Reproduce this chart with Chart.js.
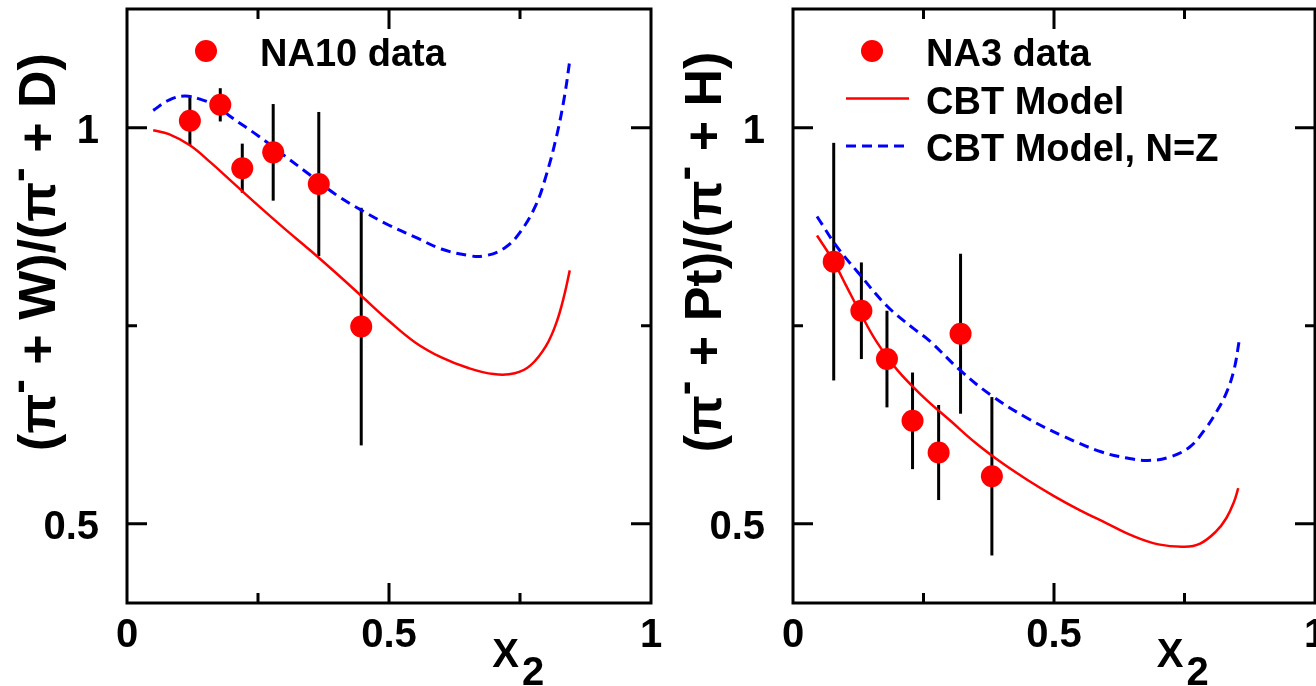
<!DOCTYPE html>
<html>
<head>
<meta charset="utf-8">
<script src="https://cdn.jsdelivr.net/npm/chart.js@4.4.1/dist/chart.umd.min.js"></script>
<style>
  body { margin: 0; background: #fff; width: 1316px; height: 686px; overflow: hidden; position: relative; }
  canvas { position: absolute; top: 0; }
  #leftChart { left: 0; }
  #rightChart { left: 658px; }
</style>
</head>
<body>
<canvas id="leftChart" width="680" height="686"></canvas>
<canvas id="rightChart" width="658" height="686"></canvas>
<script>
// axis ticks (shared by both panels)
const xTicks = [0, 0.25, 0.5, 0.75, 1];
const xTickLabels = [0, 0.5, 1];
const yTicks = [0.5, 0.75, 1];
const yTickLabels = [0.5, 1];

// left panel: NA10, W / D
const na10X = [0.12, 0.178, 0.22, 0.279, 0.366, 0.447];
const na10Y = [1.009, 1.029, 0.949, 0.969, 0.929, 0.749];
const na10Err = [0.031, 0.021, 0.031, 0.061, 0.091, 0.15];
const wdModelX = [0.05, 0.08, 0.12, 0.16, 0.2, 0.25, 0.3, 0.35, 0.4, 0.45, 0.5, 0.55, 0.6, 0.65, 0.7, 0.74, 0.77, 0.8, 0.82, 0.835, 0.845];
const wdModelY = [0.997, 0.992, 0.978, 0.956, 0.932, 0.902, 0.873, 0.845, 0.816, 0.786, 0.756, 0.729, 0.71, 0.697, 0.689, 0.69, 0.7, 0.725, 0.755, 0.79, 0.82];
const wdNZX = [0.05, 0.08, 0.11, 0.14, 0.17, 0.2, 0.25, 0.3, 0.35, 0.4, 0.45, 0.5, 0.55, 0.6, 0.65, 0.68, 0.72, 0.75, 0.78, 0.8, 0.82, 0.835, 0.845];
const wdNZY = [1.022, 1.035, 1.04, 1.036, 1.028, 1.013, 0.99, 0.965, 0.94, 0.915, 0.895, 0.877, 0.862, 0.847, 0.839, 0.838, 0.848, 0.868, 0.902, 0.94, 0.99, 1.04, 1.085];

// right panel: NA3, Pt / H
const na3X = [0.078, 0.131, 0.18, 0.229, 0.279, 0.321, 0.381];
const na3Y = [0.831, 0.769, 0.708, 0.63, 0.59, 0.74, 0.56];
const na3Err = [0.15, 0.061, 0.061, 0.061, 0.06, 0.101, 0.1];
const phModelX = [0.046, 0.078, 0.1, 0.13, 0.16, 0.2, 0.25, 0.3, 0.35, 0.4, 0.45, 0.5, 0.55, 0.6, 0.65, 0.7, 0.75, 0.78, 0.81, 0.83, 0.845, 0.853];
const phModelY = [0.864, 0.831, 0.803, 0.765, 0.73, 0.694, 0.66, 0.631, 0.602, 0.577, 0.555, 0.535, 0.517, 0.501, 0.485, 0.474, 0.471, 0.475, 0.49, 0.507, 0.528, 0.545];
const phNZX = [0.046, 0.084, 0.125, 0.18, 0.23, 0.26, 0.32, 0.38, 0.45, 0.52, 0.59, 0.64, 0.68, 0.72, 0.76, 0.79, 0.81, 0.83, 0.845, 0.855];
const phNZY = [0.888, 0.85, 0.817, 0.775, 0.747, 0.732, 0.694, 0.662, 0.633, 0.61, 0.591, 0.583, 0.58, 0.584, 0.597, 0.62, 0.64, 0.665, 0.695, 0.732];

const leftTitle = [['(', 0], ['π', 0], ['-', 1], [' + W)/(', 0], ['π', 0], ['-', 1], [' + D)', 0]];
const rightTitle = [['(', 0], ['π', 0], ['-', 1], [' + Pt)/(', 0], ['π', 0], ['-', 1], [' + H)', 0]];

const FONT = '"Liberation Sans", Arial, Helvetica, sans-serif';
const RED = '#ff0000';
const BLUE = '#0000ff';

function toXY(xs, ys) {
    return xs.map((x, i) => ({ x: x, y: ys[i] }));
}

function framePlugin(p) {
    return {
        id: 'frame',
        beforeDatasetsDraw(chart) {
            // vertical error bars
            const ctx = chart.ctx, sx = chart.scales.x, sy = chart.scales.y;
            ctx.save();
            ctx.strokeStyle = '#000';
            ctx.lineWidth = 3;
            p.dataX.forEach((x, i) => {
                const px = sx.getPixelForValue(x);
                ctx.beginPath();
                ctx.moveTo(px, sy.getPixelForValue(p.dataY[i] - p.err[i]));
                ctx.lineTo(px, sy.getPixelForValue(p.dataY[i] + p.err[i]));
                ctx.stroke();
            });
            ctx.restore();
        },
        afterDraw(chart) {
            const ctx = chart.ctx, a = chart.chartArea;
            const sx = chart.scales.x, sy = chart.scales.y;
            ctx.save();
            ctx.strokeStyle = '#000';
            ctx.fillStyle = '#000';
            ctx.lineWidth = 3;
            ctx.strokeRect(a.left, a.top, a.right - a.left, a.bottom - a.top);

            // inward ticks
            xTicks.forEach(v => {
                if (v <= sx.min || v >= sx.max) return;
                const len = xTickLabels.includes(v) ? 20 : 10;
                const px = sx.getPixelForValue(v);
                ctx.beginPath();
                ctx.moveTo(px, a.bottom); ctx.lineTo(px, a.bottom - len);
                ctx.moveTo(px, a.top); ctx.lineTo(px, a.top + len);
                ctx.stroke();
            });
            yTicks.forEach(v => {
                const len = yTickLabels.includes(v) ? 20 : 10;
                const py = sy.getPixelForValue(v);
                ctx.beginPath();
                ctx.moveTo(a.left, py); ctx.lineTo(a.left + len, py);
                ctx.moveTo(a.right, py); ctx.lineTo(a.right - len, py);
                ctx.stroke();
            });

            // tick labels
            ctx.font = 'bold 40px ' + FONT;
            ctx.textBaseline = 'alphabetic';
            ctx.textAlign = 'center';
            xTickLabels.forEach(v => {
                ctx.fillText(String(v), sx.getPixelForValue(v), a.bottom + 44);
            });
            ctx.textAlign = 'right';
            yTickLabels.forEach(v => {
                ctx.fillText(String(v), a.left - 28, sy.getPixelForValue(v) + 15);
            });

            // x axis title with subscript
            ctx.textAlign = 'left';
            const tx = sx.getPixelForValue(0.697);
            ctx.fillText('X', tx, a.bottom + 64);
            ctx.fillText('2', tx + ctx.measureText('X').width + 3, a.bottom + 82);

            // rotated y axis title
            ctx.save();
            ctx.translate(a.left - 72, 252);
            ctx.rotate(-Math.PI / 2);
            const big = 'bold 52px ' + FONT, small = 'bold 44px ' + FONT;
            let total = 0;
            p.title.forEach(s => {
                ctx.font = s[1] ? small : big;
                total += ctx.measureText(s[0]).width;
            });
            let cx = -total / 2;
            p.title.forEach(s => {
                ctx.font = s[1] ? small : big;
                ctx.fillText(s[0], cx, s[1] ? -22 : 0);
                cx += ctx.measureText(s[0]).width;
            });
            ctx.restore();

            // legend
            ctx.font = 'bold 38px ' + FONT;
            ctx.textAlign = 'left';
            p.legend.forEach((label, i) => {
                const ds = chart.data.datasets[i];
                const base = 66 + i * 47.5;
                const my = base - 15;
                if (ds.type === 'scatter') {
                    ctx.fillStyle = ds.backgroundColor;
                    ctx.beginPath();
                    ctx.arc(a.left + 79, my, ds.pointRadius, 0, Math.PI * 2);
                    ctx.fill();
                } else {
                    ctx.strokeStyle = ds.borderColor;
                    ctx.lineWidth = ds.borderWidth;
                    ctx.setLineDash(ds.borderDash || []);
                    ctx.beginPath();
                    ctx.moveTo(a.left + 53, my); ctx.lineTo(a.left + 116, my);
                    ctx.stroke();
                    ctx.setLineDash([]);
                }
                ctx.fillStyle = '#000';
                ctx.fillText(label, a.left + 133, base);
            });
            ctx.restore();
        }
    };
}

function makePanel(id, p, pad) {
    return new Chart(document.getElementById(id), {
        data: {
            datasets: [{
                type: 'scatter',
                data: toXY(p.dataX, p.dataY),
                backgroundColor: RED,
                borderWidth: 0,
                pointRadius: 11,
                order: 0
            }, {
                type: 'line',
                data: toXY(p.modelX, p.modelY),
                borderColor: RED,
                borderWidth: 2.5,
                pointRadius: 0,
                tension: 0.4,
                order: 2
            }, {
                type: 'line',
                data: toXY(p.nzX, p.nzY),
                borderColor: BLUE,
                borderWidth: 3,
                borderDash: [10, 6],
                pointRadius: 0,
                tension: 0.4,
                order: 1
            }]
        },
        options: {
            responsive: false,
            animation: false,
            layout: { padding: pad, autoPadding: false },
            plugins: { legend: { display: false }, tooltip: { enabled: false } },
            scales: {
                x: { type: 'linear', min: 0, max: 1, display: false },
                y: { type: 'linear', min: 0.4, max: 1.15, display: false }
            }
        },
        plugins: [framePlugin(p)]
    });
}

makePanel('leftChart', {
    dataX: na10X, dataY: na10Y, err: na10Err,
    modelX: wdModelX, modelY: wdModelY, nzX: wdNZX, nzY: wdNZY,
    title: leftTitle, legend: ['NA10 data']
}, { left: 127, right: 29, top: 9, bottom: 83 });

makePanel('rightChart', {
    dataX: na3X, dataY: na3Y, err: na3Err,
    modelX: phModelX, modelY: phModelY, nzX: phNZX, nzY: phNZY,
    title: rightTitle, legend: ['NA3 data', 'CBT Model', 'CBT Model, N=Z']
}, { left: 135, right: 1, top: 9, bottom: 83 });
</script>
</body>
</html>
